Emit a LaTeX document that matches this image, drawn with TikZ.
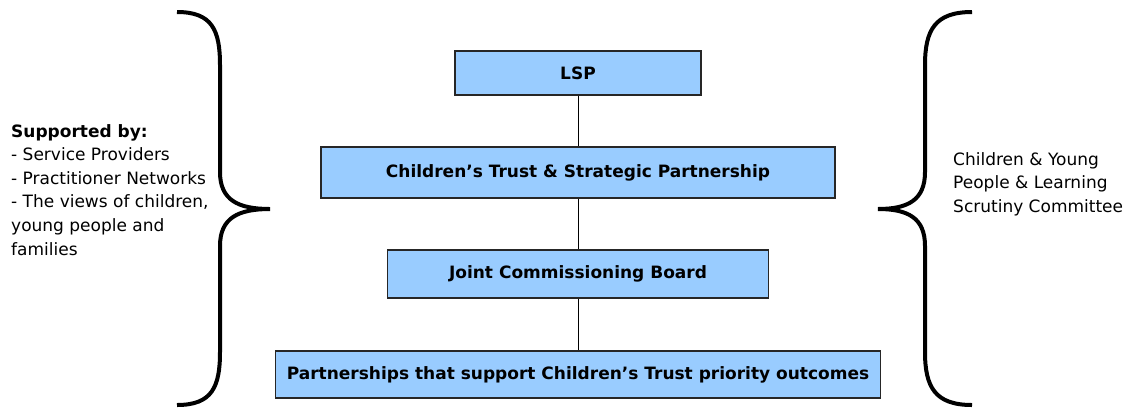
\documentclass[tikz,border=0pt]{standalone}
\usepackage{fontspec}
\setmainfont{DejaVu Sans}

\definecolor{boxblue}{HTML}{99CCFF}

\tikzset{
    orgbox/.style={draw=black!85,line width=1.5pt,fill=boxblue,inner sep=0pt,
        font=\bfseries\fontsize{17}{20}\selectfont},
    link/.style={line width=1pt},
    bracket/.style={line width=4pt},
    sidetext/.style={align=left,inner sep=0pt,font=\fontsize{17}{23.6}\selectfont}
}

\begin{document}
\begin{tikzpicture}[x=1pt,y=-1pt]
    \useasboundingbox (0,0) rectangle (1129,408);

    \node[orgbox,minimum width=246pt,minimum height=44pt] (lsp) at (578,73) {LSP};
    \node[orgbox,minimum width=514pt,minimum height=51pt] (trust) at (578,172.5) {Children’s Trust \& Strategic Partnership};
    \node[orgbox,minimum width=381pt,minimum height=48pt] (jcb) at (578,274) {Joint Commissioning Board};
    \node[orgbox,minimum width=605pt,minimum height=47pt] (partners) at (578,374.5) {Partnerships that support Children’s Trust priority outcomes};

    \draw[link] (lsp) -- (trust);
    \draw[link] (trust) -- (jcb);
    \draw[link] (jcb) -- (partners);

    \draw[bracket] (177,12) .. controls (212,12) and (220,30) .. (220,65)
        -- (220,172) .. controls (220,200) and (238,209) .. (270,209)
        .. controls (238,209) and (220,218) .. (220,246)
        -- (220,352) .. controls (220,387) and (212,405) .. (177,405);
    \draw[bracket] (972,12) .. controls (935,12) and (925,30) .. (925,65)
        -- (925,172) .. controls (925,200) and (908,209) .. (878,209)
        .. controls (908,209) and (925,218) .. (925,246)
        -- (925,352) .. controls (925,387) and (935,405) .. (972,405);

    \node[sidetext,anchor=north west] (support) at (11,124) {\textbf{Supported by:}\\- Service Providers\\- Practitioner Networks\\- The views of children,\\young people and\\families};
    \node[sidetext,anchor=west] (scrutiny) at (953,184) {Children \& Young\\People \& Learning\\Scrutiny Committee};
\end{tikzpicture}
\end{document}
